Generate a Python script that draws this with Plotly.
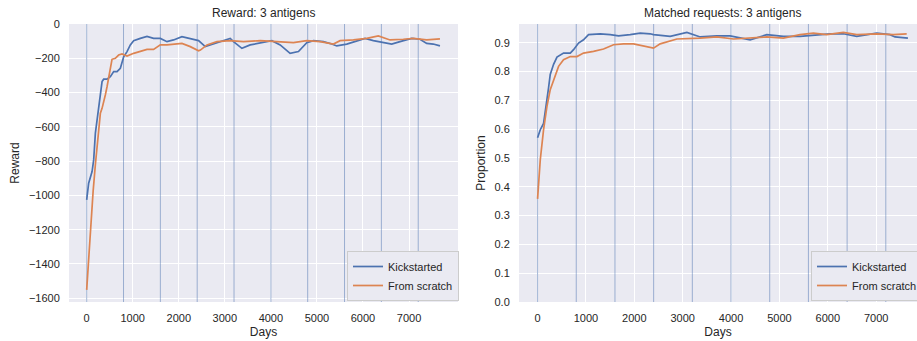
import plotly.graph_objects as go

# ---------------- data ----------------
reward_kick_x = [0, 43, 117, 152, 189, 225, 260, 297, 334, 369, 442, 514, 586, 659, 731, 803, 876, 948, 1020,
                 1165, 1273, 1310, 1453, 1599, 1744, 1887, 2069, 2250, 2430, 2575, 2755, 2972, 3117, 3189, 3371,
                 3551, 3768, 4022, 4202, 4418, 4599, 4780, 4924, 5141, 5323, 5431, 5648, 5865, 6046, 6226, 6443,
                 6624, 6804, 7058, 7238, 7384, 7527, 7672]
reward_kick_y = [-1026, -929, -861, -793, -637, -560, -482, -404, -336, -322, -322, -307, -278, -278, -258, -191,
                 -161, -122, -97, -84, -74, -72, -84, -84, -103, -93, -74, -84, -97, -132, -117, -97, -84, -103,
                 -142, -122, -109, -97, -122, -171, -161, -109, -97, -103, -117, -128, -117, -97, -84, -97, -109,
                 -117, -103, -84, -89, -113, -117, -128]

reward_scratch_x = [0, 65, 140, 189, 260, 297, 334, 369, 405, 442, 477, 514, 550, 622, 694, 767, 876, 1020, 1165,
                    1310, 1453, 1599, 1744, 1887, 2069, 2250, 2430, 2470, 2612, 2828, 3117, 3406, 3768, 4129, 4490,
                    4780, 5069, 5358, 5503, 5792, 6082, 6334, 6588, 6876, 7093, 7384, 7672]
reward_scratch_y = [-1551, -1250, -975, -820, -618, -521, -492, -443, -414, -366, -307, -249, -206, -200, -181,
                    -175, -187, -171, -161, -148, -148, -122, -122, -117, -113, -132, -156, -152, -122, -103, -97,
                    -103, -97, -103, -109, -97, -103, -117, -97, -93, -84, -70, -93, -89, -84, -93, -87]

match_kick_x = [0, 56, 124, 180, 227, 262, 331, 401, 537, 676, 744, 847, 950, 1054, 1295, 1502, 1674, 1915, 2122,
                2328, 2397, 2742, 3087, 3362, 3706, 3981, 4395, 4739, 5083, 5427, 5772, 6048, 6322, 6599, 7012,
                7287, 7390, 7657]
match_kick_y = [0.570, 0.598, 0.620, 0.680, 0.743, 0.790, 0.825, 0.850, 0.864, 0.864, 0.876, 0.899, 0.910, 0.928,
                0.931, 0.928, 0.924, 0.928, 0.933, 0.931, 0.928, 0.922, 0.936, 0.920, 0.924, 0.924, 0.910, 0.928,
                0.922, 0.922, 0.928, 0.931, 0.931, 0.922, 0.933, 0.928, 0.920, 0.916]

match_scratch_x = [0, 56, 124, 194, 262, 331, 434, 537, 676, 814, 950, 1157, 1364, 1570, 1777, 1983, 2190, 2397,
                   2535, 2880, 3362, 3706, 4051, 4395, 4739, 5083, 5427, 5702, 5979, 6322, 6599, 7012, 7355, 7632]
match_scratch_y = [0.358, 0.494, 0.598, 0.679, 0.737, 0.772, 0.818, 0.841, 0.852, 0.852, 0.864, 0.870, 0.878,
                   0.893, 0.896, 0.896, 0.889, 0.881, 0.896, 0.913, 0.916, 0.920, 0.913, 0.916, 0.920, 0.916,
                   0.928, 0.933, 0.928, 0.936, 0.928, 0.931, 0.928, 0.931]

episode_starts = [0, 800, 1600, 2400, 3200, 4000, 4800, 5600, 6400, 7200]

x_ticks = [0, 1000, 2000, 3000, 4000, 5000, 6000, 7000]
reward_ticks = [-1600, -1400, -1200, -1000, -800, -600, -400, -200, 0]
prop_ticks = [0.0, 0.1, 0.2, 0.3, 0.4, 0.5, 0.6, 0.7, 0.8, 0.9]

series_names = ["Kickstarted", "From scratch"]
titles = ["Reward: 3 antigens", "Matched requests: 3 antigens"]

# ---------------- style ----------------
W, H = 917, 341
BLUE = "#4C72B0"
ORANGE = "#DD8452"
BG = "#EAEAF2"
TXT = "#262626"
FONT = "Arial, Liberation Sans, sans-serif"
VLINE = "rgba(76,114,176,0.5)"

REW_RANGE = [-1622, 0]
PROP_RANGE = [0, 0.965]

fig = go.Figure()

# vertical episode markers, drawn as traces beneath the data lines
def vline_xy(y_range):
    xs, ys = [], []
    for s in episode_starts:
        xs += [s, s, None]
        ys += [y_range[0], y_range[1], None]
    return xs, ys

vx, vy = vline_xy(REW_RANGE)
fig.add_trace(go.Scatter(x=vx, y=vy, mode="lines", line=dict(color=VLINE, width=1), showlegend=False,
                         hoverinfo="skip", xaxis="x", yaxis="y"))
vx, vy = vline_xy(PROP_RANGE)
fig.add_trace(go.Scatter(x=vx, y=vy, mode="lines", line=dict(color=VLINE, width=1), showlegend=False,
                         hoverinfo="skip", xaxis="x2", yaxis="y2"))

fig.add_trace(go.Scatter(x=reward_kick_x, y=reward_kick_y, mode="lines", name=series_names[0],
                         line=dict(color=BLUE, width=1.7), xaxis="x", yaxis="y", legend="legend"))
fig.add_trace(go.Scatter(x=reward_scratch_x, y=reward_scratch_y, mode="lines", name=series_names[1],
                         line=dict(color=ORANGE, width=1.7), xaxis="x", yaxis="y", legend="legend"))
fig.add_trace(go.Scatter(x=match_kick_x, y=match_kick_y, mode="lines", name=series_names[0],
                         line=dict(color=BLUE, width=1.7), xaxis="x2", yaxis="y2", legend="legend2"))
fig.add_trace(go.Scatter(x=match_scratch_x, y=match_scratch_y, mode="lines", name=series_names[1],
                         line=dict(color=ORANGE, width=1.7), xaxis="x2", yaxis="y2", legend="legend2"))

ydom = [(H - 302) / H, (H - 24) / H]

axis_common = dict(showgrid=True, gridcolor="white", gridwidth=1.2, zeroline=False, showline=False,
                   ticks="outside", ticklen=6, tickcolor="rgba(0,0,0,0)",
                   tickfont=dict(size=11, color=TXT, family=FONT), automargin=False)

fig.update_layout(
    width=W, height=H,
    margin=dict(l=0, r=0, t=0, b=0, autoexpand=False),
    paper_bgcolor="white", plot_bgcolor=BG,
    font=dict(family=FONT, color=TXT, size=11),
    showlegend=True,
    xaxis=dict(domain=[69 / W, 458 / W], range=[-384, 8064], tickvals=x_ticks, anchor="y",
               title=dict(text="Days", font=dict(size=12, color=TXT), standoff=4), **axis_common),
    yaxis=dict(domain=ydom, range=REW_RANGE, tickvals=reward_ticks, anchor="x",
               title=dict(text="Reward", font=dict(size=12, color=TXT), standoff=6), **axis_common),
    xaxis2=dict(domain=[519 / W, 1.0], range=[-384, 7845], tickvals=x_ticks, anchor="y2",
                title=dict(text="Days", font=dict(size=12, color=TXT), standoff=4), **axis_common),
    yaxis2=dict(domain=ydom, range=PROP_RANGE, tickvals=prop_ticks, tickformat=".1f", anchor="x2",
                title=dict(text="Proportion", font=dict(size=12, color=TXT), standoff=6), **axis_common),
    legend=dict(x=347 / W, y=(H - 301) / H, xanchor="left", yanchor="bottom", bgcolor=BG,
                bordercolor="#CCCCCC", borderwidth=1, font=dict(size=11, color=TXT), tracegroupgap=0),
    legend2=dict(x=811 / W, y=(H - 301) / H, xanchor="left", yanchor="bottom", bgcolor=BG,
                 bordercolor="#CCCCCC", borderwidth=1, font=dict(size=11, color=TXT), tracegroupgap=0),
    annotations=[
        dict(text=titles[0], x=263.5 / W, y=(H - 13) / H, xref="paper", yref="paper",
             showarrow=False, font=dict(size=12, color=TXT), xanchor="center", yanchor="middle"),
        dict(text=titles[1], x=722 / W, y=(H - 13) / H, xref="paper", yref="paper",
             showarrow=False, font=dict(size=12, color=TXT), xanchor="center", yanchor="middle"),
    ],
)

fig.write_html("out.html", config={"displayModeBar": False},
               post_script="document.body.style.margin='0';")
